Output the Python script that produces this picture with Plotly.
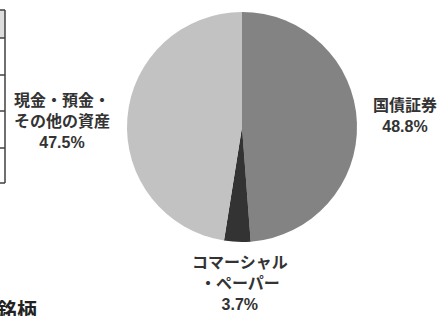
import plotly.graph_objects as go

W, H = 441, 316

labels = ["国債証券", "コマーシャル・ペーパー", "現金・預金・その他の資産"]
label_lines = ["国債証券", "コマーシャル<br>・ペーパー", "現金・預金・<br>その他の資産"]
values = [48.8, 3.7, 47.5]
colors = ["#838383", "#333333", "#c2c2c2"]
# label anchor positions in pixels (center x, center y from top)
label_pos = [(405, 116), (240, 283), (62, 121)]

def px(x):
    return x / W

def py(y):
    return (H - y) / H

fig = go.Figure()

cx, cy, r = 242, 127, 115
fig.add_trace(go.Pie(
    labels=labels,
    values=values,
    sort=False,
    direction="clockwise",
    rotation=0,
    marker=dict(colors=colors, line=dict(width=0)),
    textinfo="none",
    hoverinfo="label+percent",
    domain=dict(x=[px(cx - r), px(cx + r)], y=[py(cy + r), py(cy - r)]),
    showlegend=False,
))

font_family = "Liberation Sans, Arial, Noto Sans CJK JP"
for name, v, (x, y) in zip(label_lines, values, label_pos):
    fig.add_annotation(
        text=f"<b>{name}<br>{v}%</b>",
        x=px(x), y=py(y), xref="paper", yref="paper",
        xanchor="center", yanchor="middle", showarrow=False,
        align="center",
        font=dict(family=font_family, size=16, color="#333333"),
    )

# partial table lines on the left edge
rows_y = [10, 38, 75, 111, 148, 183]
shapes = [dict(type="rect", xref="paper", yref="paper",
               x0=px(0), x1=px(5), y0=py(38), y1=py(10),
               fillcolor="#dddddd", line=dict(width=0), layer="below")]
shapes.append(dict(type="line", xref="paper", yref="paper",
                   x0=px(5), x1=px(5), y0=py(rows_y[0]), y1=py(rows_y[-1]),
                   line=dict(color="#404040", width=1.5)))
for yy in rows_y:
    shapes.append(dict(type="line", xref="paper", yref="paper",
                       x0=px(0), x1=px(5), y0=py(yy), y1=py(yy),
                       line=dict(color="#404040", width=1.5)))

# cut-off heading at bottom-left
fig.add_annotation(
    text="<b>銘柄</b>", x=px(39), y=py(311), xref="paper", yref="paper",
    xanchor="right", yanchor="middle", showarrow=False,
    font=dict(family=font_family, size=20, color="#222222"),
)

fig.update_layout(
    width=W, height=H,
    margin=dict(l=0, r=0, t=0, b=0),
    paper_bgcolor="white", plot_bgcolor="white",
    shapes=shapes,
    showlegend=False,
)

fig.write_html(
    "out.html",
    config={"displayModeBar": False},
    post_script="document.body.style.margin='0';document.body.style.overflow='hidden';",
)
